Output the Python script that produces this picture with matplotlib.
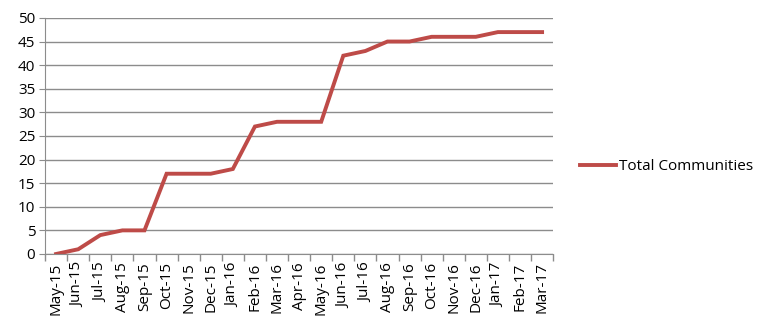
import matplotlib
matplotlib.use("Agg")
import matplotlib.pyplot as plt
from matplotlib.ticker import FixedLocator

plt.rcParams['font.family'] = ['Open Sans', 'DejaVu Sans']

months = ['May-15', 'Jun-15', 'Jul-15', 'Aug-15', 'Sep-15', 'Oct-15', 'Nov-15', 'Dec-15',
          'Jan-16', 'Feb-16', 'Mar-16', 'Apr-16', 'May-16', 'Jun-16', 'Jul-16', 'Aug-16',
          'Sep-16', 'Oct-16', 'Nov-16', 'Dec-16', 'Jan-17', 'Feb-17', 'Mar-17']
communities = [0, 1, 4, 5, 5, 17, 17, 17, 18, 27, 28, 28, 28, 42, 43, 45, 45, 46, 46, 46, 47, 47, 47]
y_ticks = [0, 5, 10, 15, 20, 25, 30, 35, 40, 45, 50]

fig = plt.figure(figsize=(7.64, 3.32), dpi=100)
ax = fig.add_axes([0.059, 0.235, 0.665, 0.711])

x = list(range(len(months)))
ax.plot(x, communities, color='#BE4B48', linewidth=2.8, label='Total Communities',
        solid_joinstyle='miter')

ax.set_xlim(-0.5, len(months) - 0.5)
ax.set_ylim(0, 50)
ax.set_yticks(y_ticks)
ax.yaxis.grid(True, color='#8C8C8C', linewidth=1)
ax.set_axisbelow(True)

ax.set_xticks(x)
ax.set_xticklabels(months, rotation=90, fontsize=11)
ax.tick_params(axis='x', length=0, pad=6)
ax.xaxis.set_minor_locator(FixedLocator([i - 0.5 for i in range(len(months) + 1)]))
ax.tick_params(axis='x', which='minor', length=5, color='#8C8C8C', width=1)
ax.tick_params(axis='y', labelsize=11, length=4, color='#8C8C8C', pad=3)

for s in ['top', 'right']:
    ax.spines[s].set_visible(False)
ax.spines['left'].set_color('#8C8C8C')
ax.spines['bottom'].set_color('#8C8C8C')

ax.legend(loc='center left', bbox_to_anchor=(1.025, 0.37), frameon=False, fontsize=11,
          handlelength=2.4, handletextpad=0.2)

fig.savefig('out.png', dpi=100)
